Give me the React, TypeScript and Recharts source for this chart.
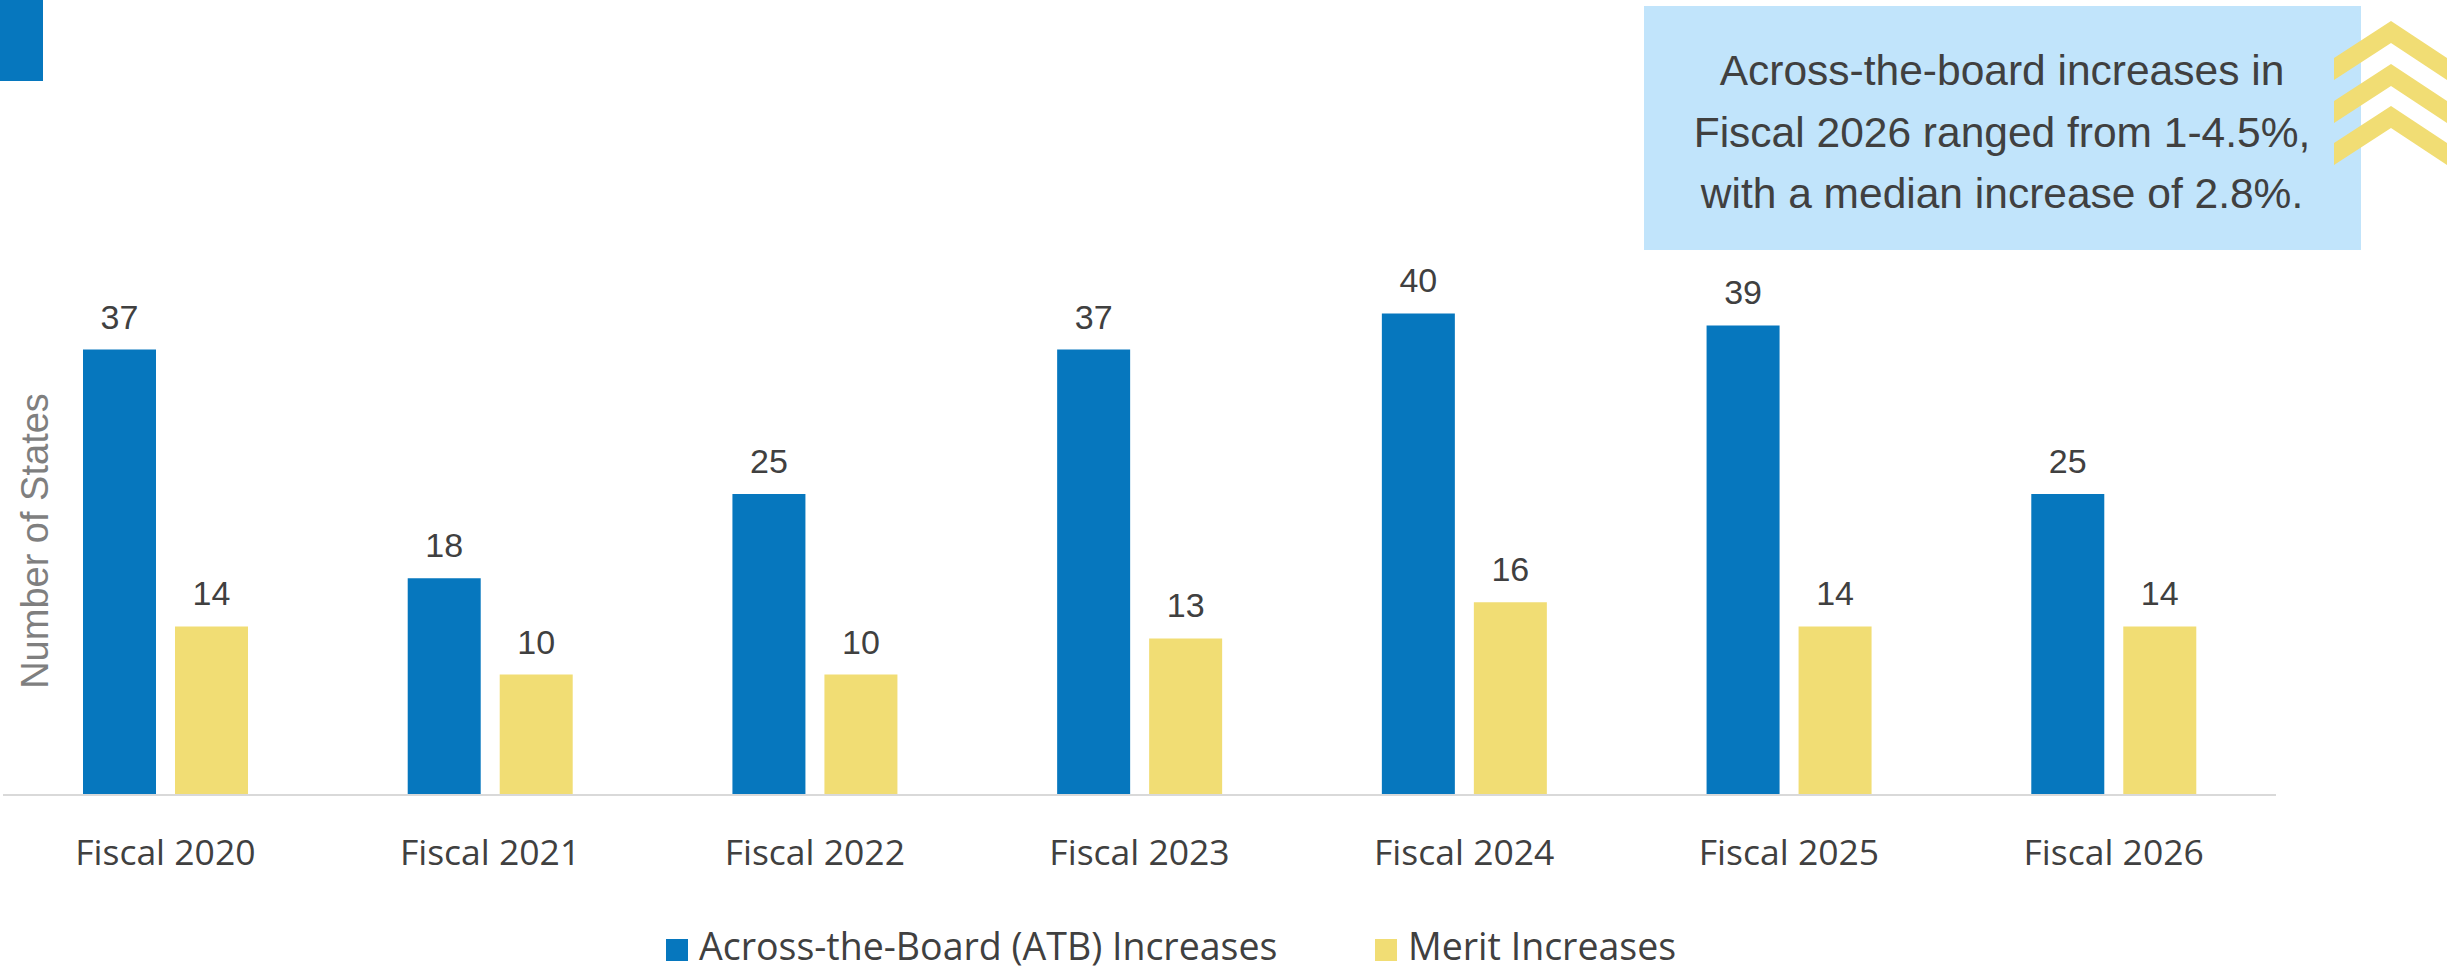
import { BarChart, Bar, XAxis, YAxis, LabelList, Legend } from 'recharts';

const categories = ['Fiscal 2020', 'Fiscal 2021', 'Fiscal 2022', 'Fiscal 2023', 'Fiscal 2024', 'Fiscal 2025', 'Fiscal 2026'];
const atbIncreases = [37, 18, 25, 37, 40, 39, 25];
const meritIncreases = [14, 10, 10, 13, 16, 14, 14];
const seriesNames = ['Across-the-Board (ATB) Increases', 'Merit Increases'];
const calloutLines = [
  'Across-the-board increases in',
  'Fiscal 2026 ranged from 1-4.5%,',
  'with a median increase of 2.8%.',
];
const yAxisTitle = 'Number of States';

const data = categories.map((name, i) => ({
  name,
  atb: atbIncreases[i],
  merit: meritIncreases[i],
}));

const BLUE = '#0677BE';
const YELLOW = '#F1DD74';
const TEXT = '#404040';
const SANS = '"Liberation Sans", Arial, sans-serif';
const APTOS_LIKE = '"Open Sans", "Noto Sans", sans-serif';

const FiscalTick = ({ x, y, payload }: any) => (
  <text x={x} y={y + 70} textAnchor="middle" fontFamily={APTOS_LIKE} fontSize={35.5} fill={TEXT}>
    {payload.value}
  </text>
);

// legend items sit at fixed spots under the chart, like the original
const legendLeft = [666, 1375];

const renderLegend = ({ payload }: any) => (
  <svg width={2450} height={87} style={{ display: 'block', overflow: 'visible' }}>
    {(payload || []).map((entry: any, i: number) => (
      <g key={entry.value}>
        <rect x={legendLeft[i]} y={59} width={22} height={22} fill={entry.color} />
        <text x={legendLeft[i] + 33} y={80} fontFamily={APTOS_LIKE} fontSize={37.5} fill={TEXT}>
          {entry.value}
        </text>
      </g>
    ))}
  </svg>
);

const chevronTips = [21, 64, 106];

export default function App() {
  return (
    <div style={{ position: 'absolute', left: 0, top: 0, width: 2450, height: 967, background: '#fff' }}>
      <BarChart
        width={2450}
        height={967}
        data={data}
        margin={{ top: 193, right: 174, bottom: 72, left: 3 }}
        barSize={73}
        barGap={19}
      >
        <XAxis
          dataKey="name"
          height={100}
          axisLine={{ stroke: '#D9D9D9', strokeWidth: 2 }}
          tickLine={false}
          tickSize={0}
          tickMargin={0}
          tick={<FiscalTick />}
          interval={0}
        />
        <YAxis hide domain={[0, 50]} />
        <Legend
          layout="horizontal"
          verticalAlign="middle"
          align="center"
          wrapperStyle={{ top: 880, left: 0, width: 2450, height: 87 }}
          content={renderLegend}
        />
        <Bar dataKey="atb" name={seriesNames[0]} fill={BLUE} isAnimationActive={false}>
          <LabelList dataKey="atb" position="top" offset={21} fill={TEXT} fontSize={34} fontFamily={SANS} />
        </Bar>
        <Bar dataKey="merit" name={seriesNames[1]} fill={YELLOW} isAnimationActive={false}>
          <LabelList dataKey="merit" position="top" offset={21} fill={TEXT} fontSize={34} fontFamily={SANS} />
        </Bar>
      </BarChart>

      <svg
        width={2450}
        height={967}
        style={{ position: 'absolute', left: 0, top: 0, pointerEvents: 'none' }}
      >
        {/* corner tab */}
        <rect x={0} y={0} width={43} height={81} fill={BLUE} />

        {/* y axis title */}
        <text
          x={48}
          y={541}
          transform="rotate(-90 48 541)"
          textAnchor="middle"
          fontFamily={SANS}
          fontSize={38}
          fill="#7F7F7F"
        >
          {yAxisTitle}
        </text>

        {/* callout */}
        <rect x={1644} y={6} width={717} height={244} fill="#C1E4FB" />
        {calloutLines.map((line, i) => (
          <text
            key={line}
            x={2002}
            y={85 + i * 61.5}
            textAnchor="middle"
            fontFamily={SANS}
            fontSize={42.5}
            fill={TEXT}
          >
            {line}
          </text>
        ))}

        {/* chevrons */}
        {chevronTips.map((t) => (
          <polygon
            key={t}
            points={`2334,${t + 37} 2391,${t} 2447,${t + 37} 2447,${t + 59} 2391,${t + 22} 2334,${t + 59}`}
            fill={YELLOW}
          />
        ))}
      </svg>
    </div>
  );
}
